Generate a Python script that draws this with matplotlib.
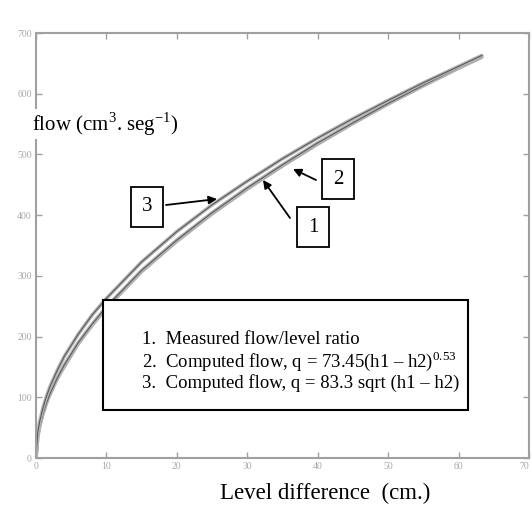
import numpy as np
import matplotlib.pyplot as plt

plt.rcParams['font.family'] = ['Liberation Serif', 'DejaVu Serif']
plt.rcParams['mathtext.fontset'] = 'custom'
plt.rcParams['mathtext.rm'] = 'Liberation Serif'

# values
level = [0, 0.25, 0.5, 1, 1.5, 2, 3, 4, 6, 8, 10, 15, 20, 25, 30, 35, 40, 45, 50, 55, 60, 63.3]
measured = [0, 36, 52, 75, 92, 105, 130, 150, 188, 219, 247, 307, 357, 402, 443, 481, 517, 551, 583, 613, 642, 660]
power_fit = [0, 35, 51, 73, 91, 106, 131, 153, 190, 221, 249, 309, 359, 404, 445, 483, 519, 552, 584, 614, 643, 662]
sqrt_fit = [0, 42, 59, 83, 102, 118, 144, 167, 204, 236, 263, 323, 373, 417, 456, 493, 527, 559, 589, 618, 645, 663]

xticks = [0, 10, 20, 30, 40, 50, 60, 70]
yticks = [0, 100, 200, 300, 400, 500, 600, 700]

legend_lines = [
    "1.  Measured flow/level ratio",
    "2.  Computed flow, q = 73.45(h1 \u2013 h2)$^{0.53}$",
    "3.  Computed flow, q = 83.3 sqrt (h1 \u2013 h2)",
]

fig = plt.figure(figsize=(5.32, 5.05), dpi=100)
ax = fig.add_axes([36 / 532, 47 / 505, 493 / 532, 425 / 505])

for ys in (measured, power_fit, sqrt_fit):
    ax.plot(level, ys, color='#b4b4b4', lw=2.6, solid_capstyle='round')
    ax.plot(level, ys, color='#5a5a5a', lw=0.8)

ax.set_xlim(0, 70)
ax.set_ylim(0, 700)
ax.set_xticks(xticks)
ax.set_yticks(yticks)
ax.tick_params(direction='in', length=4, width=1, colors='#a0a0a0',
               labelsize=7, labelcolor='#a8a8a8', top=True, right=True,
               labeltop=False, labelright=False, pad=3)
# last label sits at the figure edge, keep it inside
ax.get_xticklabels()[-1].set_horizontalalignment('right')
for s in ax.spines.values():
    s.set_color('#a0a0a0')
    s.set_linewidth(1.5)

# axis titles
fig.text(32 / 532, 1 - 124 / 505, "flow (cm$^3$. seg$^{\\mathrm{-}1}$)", fontsize=15,
         ha='left', va='center',
         bbox=dict(facecolor='white', edgecolor='none', pad=1))
fig.text(325 / 532, 1 - 493 / 505, "Level difference  (cm.)", fontsize=16.5,
         ha='center', va='center')

# legend box
fig.patches.append(plt.Rectangle((103 / 532, 1 - 410 / 505), 365 / 532, 110 / 505,
                                 transform=fig.transFigure, facecolor='white',
                                 edgecolor='black', lw=1.5))
for i, t in enumerate(legend_lines):
    fig.text(142 / 532, 1 - (340 + i * 21.5) / 505, t, fontsize=13.5,
             ha='left', va='center')

# numbered labels with arrows
labels = [("1", (313, 227), (263, 180), (290, 218)),
          ("2", (338, 179), (293, 169), (316, 180)),
          ("3", (147, 207), (217, 199), (166, 205))]
for num, box_xy, tip, tail in labels:
    ax.annotate("", xy=(tip[0], 505 - tip[1]), xycoords='figure pixels',
                xytext=(tail[0], 505 - tail[1]), textcoords='figure pixels',
                arrowprops=dict(arrowstyle='-|>', color='black', lw=1.3,
                                mutation_scale=12, shrinkA=0, shrinkB=0))
    fig.text(box_xy[0] / 532, 1 - box_xy[1] / 505, num, fontsize=15,
             ha='center', va='center',
             bbox=dict(boxstyle='square,pad=0.5', facecolor='white',
                       edgecolor='black', lw=1.3))

fig.savefig('out.png', dpi=100)
